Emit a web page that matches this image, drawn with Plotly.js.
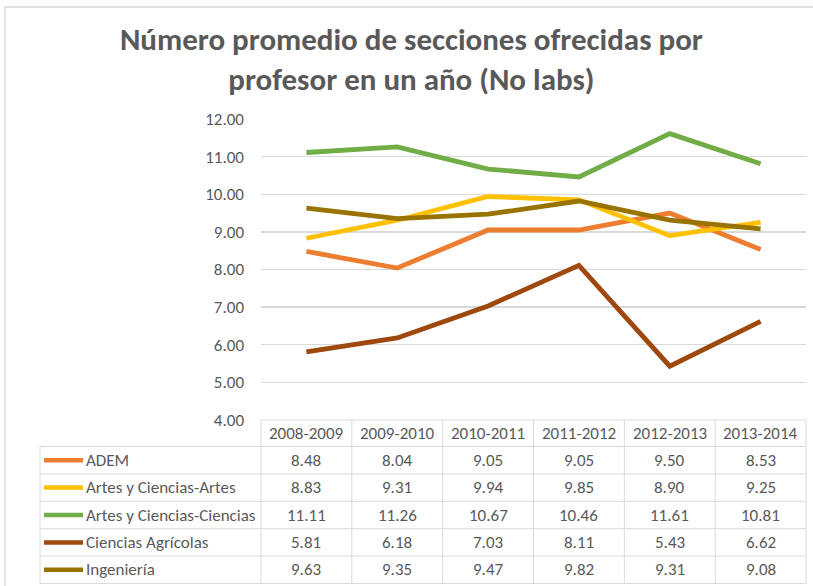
<!DOCTYPE html>
<html>
<head>
<meta charset="utf-8">
<script src="https://cdn.plot.ly/plotly-3.0.1.min.js"></script>
<style>html,body{margin:0;padding:0;background:#fff;}#chart{width:813px;height:586px;}</style>
</head>
<body>
<div id="chart"></div>
<script>
const categories = ["2008-2009","2009-2010","2010-2011","2011-2012","2012-2013","2013-2014"];
const seriesNames = ["ADEM","Artes y Ciencias-Artes","Artes y Ciencias-Ciencias","Ciencias Agrícolas","Ingeniería"];
const adem = [8.48, 8.04, 9.05, 9.05, 9.50, 8.53];
const artes = [8.83, 9.31, 9.94, 9.85, 8.90, 9.25];
const ciencias = [11.11, 11.26, 10.67, 10.46, 11.61, 10.81];
const agricolas = [5.81, 6.18, 7.03, 8.11, 5.43, 6.62];
const ingenieria = [9.63, 9.35, 9.47, 9.82, 9.31, 9.08];
const yTicks = [4,5,6,7,8,9,10,11,12];
const yTickLabels = ["4.00","5.00","6.00","7.00","8.00","9.00","10.00","11.00","12.00"];

const seriesValues = [adem, artes, ciencias, agricolas, ingenieria];
const colors = ["#ED7D31","#FFC000","#70AD47","#9E480E","#997300"];

const W = 813, H = 586;
const M = {l: 261, r: 7, t: 119, b: 166};
const pw = W - M.l - M.r, ph = H - M.t - M.b;
const px2x = p => (p - M.l) / pw;
const px2y = p => (H - M.b - p) / ph;

const FONT = "Carlito, Calibri, 'Liberation Sans Narrow', 'Open Sans', sans-serif";
const grid = "#D9D9D9";
const textCol = "#595959";
const TS = 17;

const traces = seriesValues.map((vals, i) => ({
  type: "scatter", mode: "lines", x: categories, y: vals, name: seriesNames[i],
  line: {color: colors[i], width: 4.8}, hoverinfo: "skip"
}));

// table geometry (pixels)
const tableTop = 420, headerBottom = 446.5, rowH = 27.4;
const tableLeft = 40, tableRight = 806;
const colW = pw / categories.length;

const shapes = [];
const annotations = [];
// chart border
shapes.push({type: "rect", xref: "paper", yref: "paper", x0: px2x(5), x1: px2x(830), y0: px2y(7), y1: px2y(600), line: {color: grid, width: 1.3}});
// header top line
shapes.push({type: "line", xref: "paper", yref: "paper", x0: px2x(M.l), x1: px2x(tableRight), y0: px2y(tableTop), y1: px2y(tableTop), line: {color: grid, width: 1}});
// row lines
for (let r = 0; r <= seriesNames.length; r++) {
  const yy = headerBottom + r * rowH;
  shapes.push({type: "line", xref: "paper", yref: "paper", x0: px2x(tableLeft), x1: px2x(tableRight), y0: px2y(yy), y1: px2y(yy), line: {color: grid, width: 1}});
}
const tableBottom = headerBottom + seriesNames.length * rowH;
// left border
shapes.push({type: "line", xref: "paper", yref: "paper", x0: px2x(tableLeft), x1: px2x(tableLeft), y0: px2y(headerBottom), y1: px2y(tableBottom), line: {color: grid, width: 1}});
// column lines
for (let c = 0; c <= categories.length; c++) {
  const xx = M.l + c * colW;
  shapes.push({type: "line", xref: "paper", yref: "paper", x0: px2x(xx), x1: px2x(xx), y0: px2y(tableTop), y1: px2y(tableBottom), line: {color: grid, width: 1}});
}
// header labels
categories.forEach((cat, c) => {
  annotations.push({xref: "x", yref: "paper", x: cat, y: px2y((tableTop + headerBottom) / 2 + 0.5), text: cat, showarrow: false,
    font: {family: FONT, size: TS, color: textCol}, xanchor: "center", yanchor: "middle"});
});
// rows
seriesNames.forEach((name, r) => {
  const yc = headerBottom + r * rowH + rowH / 2;
  shapes.push({type: "line", xref: "paper", yref: "paper", x0: px2x(44), x1: px2x(83), y0: px2y(yc), y1: px2y(yc), line: {color: colors[r], width: 4.5}});
  annotations.push({xref: "paper", yref: "paper", x: px2x(84), y: px2y(yc), text: name, showarrow: false,
    font: {family: FONT, size: TS, color: textCol}, xanchor: "left", yanchor: "middle"});
  seriesValues[r].forEach((v, c) => {
    annotations.push({xref: "x", yref: "paper", x: categories[c], y: px2y(yc), text: v.toFixed(2), showarrow: false,
      font: {family: FONT, size: TS, color: textCol}, xanchor: "center", yanchor: "middle"});
  });
});

const layout = {
  width: W, height: H,
  margin: M,
  paper_bgcolor: "#fff", plot_bgcolor: "#fff",
  showlegend: false,
  title: {text: "Número promedio de secciones ofrecidas por<br>profesor en un año (No labs)",
    font: {family: FONT, size: 31, color: textCol, weight: "bold"},
    x: 0.506, xanchor: "center", y: 1 - 50 / H, yanchor: "middle", xref: "container", yref: "container"},
  xaxis: {type: "category", range: [-0.5, 5.5], showticklabels: false, showgrid: false, zeroline: false, showline: false, ticks: "", fixedrange: true},
  yaxis: {range: [4, 12], tickvals: yTicks, ticktext: yTickLabels, showgrid: true, gridcolor: grid, gridwidth: 1.3, zeroline: false, showline: false,
    tickfont: {family: FONT, size: TS, color: textCol}, ticks: "", ticklabelstandoff: 16, fixedrange: true},
  shapes: shapes,
  annotations: annotations
};

Plotly.newPlot("chart", traces, layout, {displayModeBar: false, staticPlot: true});
</script>
</body>
</html>
